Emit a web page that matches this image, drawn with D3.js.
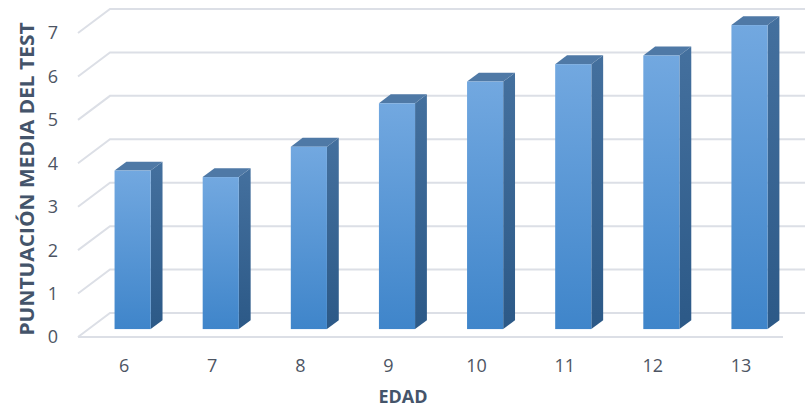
<!DOCTYPE html>
<html>
<head>
<meta charset="utf-8">
<script src="https://cdn.jsdelivr.net/npm/d3@7"></script>
<style>
  body { margin: 0; background: #fff; }
  svg { display: block; }
</style>
</head>
<body>
<div id="chart"></div>
<script>
// data
const ages = ["6", "7", "8", "9", "10", "11", "12", "13"];
const scores = [3.65, 3.5, 4.2, 5.2, 5.7, 6.1, 6.3, 7.0];
const yTicks = [0, 1, 2, 3, 4, 5, 6, 7];

const width = 805;
const height = 411;

// oblique 3d: full floor depth offset
const depthX = 32;
const depthY = -24;
const barFront = 0.33; // bar front plane, as a fraction of depth
const barBack = 0.7;

const svg = d3
  .select("#chart")
  .append("svg")
  .attr("width", width)
  .attr("height", height);

const x = d3.scaleBand().domain(ages).range([78, 783]);
const y = d3.scaleLinear().domain([0, 7]).range([337, 33]);

const defs = svg.append("defs");
const front = defs
  .append("linearGradient")
  .attr("id", "front")
  .attr("x1", 0).attr("y1", 0).attr("x2", 0).attr("y2", 1);
front.append("stop").attr("offset", "0%").attr("stop-color", "#72a8e0");
front.append("stop").attr("offset", "100%").attr("stop-color", "#3f85ca");
const side = defs
  .append("linearGradient")
  .attr("id", "side")
  .attr("x1", 0).attr("y1", 0).attr("x2", 0).attr("y2", 1);
side.append("stop").attr("offset", "0%").attr("stop-color", "#44709e");
side.append("stop").attr("offset", "100%").attr("stop-color", "#2c5987");

const grid = svg.append("g").attr("stroke", "#dcdfe6").attr("stroke-width", 2).attr("fill", "none");

// back wall gridlines + left wall diagonals
yTicks.forEach((v) => {
  grid
    .append("path")
    .attr(
      "d",
      `M${x.range()[0]},${y(v)} L${x.range()[0] + depthX},${y(v) + depthY} L${width + 5},${y(v) + depthY}`
    );
});
// floor front edge
grid
  .append("line")
  .attr("x1", x.range()[0])
  .attr("x2", x.range()[1])
  .attr("y1", y(0))
  .attr("y2", y(0));

// bars
const barW = x.bandwidth() * 0.41;
const fx = barFront * depthX, fy = barFront * depthY;
const dx = (barBack - barFront) * depthX, dy = (barBack - barFront) * depthY;

const bars = svg
  .append("g")
  .selectAll("g")
  .data(ages.map((a, i) => ({ age: a, value: scores[i] })))
  .join("g");

bars.each(function (d) {
  const g = d3.select(this);
  const x0 = x(d.age) + (x.bandwidth() - barW) / 2 + fx;
  const x1 = x0 + barW;
  const yb = y(0) + fy;
  const yt = y(d.value) + fy;
  // side face
  g.append("path")
    .attr("fill", "url(#side)")
    .attr("d", `M${x1},${yb} L${x1 + dx},${yb + dy} L${x1 + dx},${yt + dy} L${x1},${yt} Z`);
  // top face
  g.append("path")
    .attr("fill", "#4f79a6")
    .attr("d", `M${x0},${yt} L${x0 + dx},${yt + dy} L${x1 + dx},${yt + dy} L${x1},${yt} Z`);
  // front face
  g.append("rect")
    .attr("x", x0)
    .attr("y", yt)
    .attr("width", barW)
    .attr("height", yb - yt)
    .attr("fill", "url(#front)");
});

// y tick labels
svg
  .append("g")
  .selectAll("text")
  .data(yTicks)
  .join("text")
  .attr("x", 58)
  .attr("y", (d) => y(d))
  .attr("dy", "0.36em")
  .attr("text-anchor", "end")
  .attr("font-family", "Open Sans, sans-serif")
  .attr("font-size", 18)
  .attr("fill", "#4d5563")
  .text((d) => d);

// x tick labels
svg
  .append("g")
  .selectAll("text")
  .data(ages)
  .join("text")
  .attr("x", (d) => x(d) + x.bandwidth() / 2 + 2)
  .attr("y", 366)
  .attr("dy", "0.36em")
  .attr("text-anchor", "middle")
  .attr("font-family", "Open Sans, sans-serif")
  .attr("font-size", 18)
  .attr("fill", "#4d5563")
  .text((d) => d);

// axis titles
svg
  .append("text")
  .attr("transform", "translate(34,179) rotate(-90)")
  .attr("text-anchor", "middle")
  .attr("font-family", "Open Sans, sans-serif")
  .attr("font-weight", "bold")
  .attr("font-size", 19)
  .attr("fill", "#44546a")
  .attr("textLength", 313)
  .attr("lengthAdjust", "spacingAndGlyphs")
  .text("PUNTUACIÓN MEDIA DEL TEST");

svg
  .append("text")
  .attr("x", 403)
  .attr("y", 403)
  .attr("text-anchor", "middle")
  .attr("font-family", "Open Sans, sans-serif")
  .attr("font-weight", "bold")
  .attr("font-size", 18)
  .attr("fill", "#44546a")
  .text("EDAD");
</script>
</body>
</html>
